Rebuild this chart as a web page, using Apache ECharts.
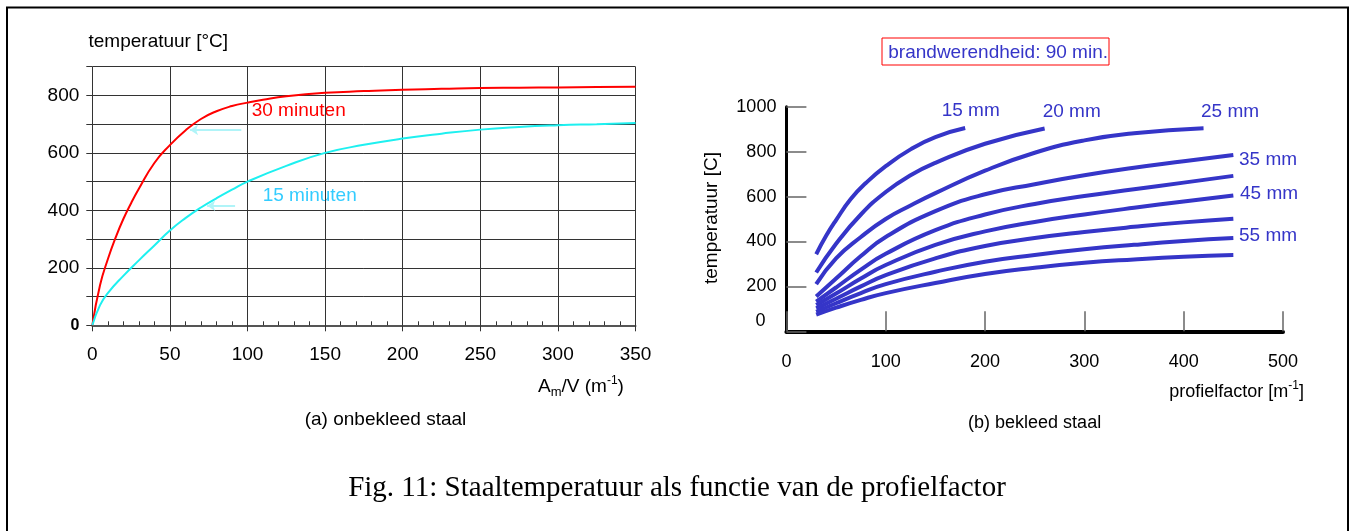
<!DOCTYPE html>
<html><head><meta charset="utf-8">
<script src="https://cdn.jsdelivr.net/npm/echarts@6/dist/echarts.min.js"></script>
<style>html,body{margin:0;padding:0;background:#fff}#c{width:1353px;height:531px}</style>
</head><body><div id="c"></div>
<script>
const SANS = '"Liberation Sans", Arial, Helvetica, sans-serif';
const SERIF = '"Liberation Serif", "Times New Roman", serif';

// ---- (a) onbekleed staal ----
const red30X  = [0, 5, 10, 15, 20, 25, 30, 40, 50, 60, 70, 80, 90, 100, 110, 125, 150, 175, 200, 225, 250, 275, 300, 325, 350];
const red30Y  = [0, 140, 230, 305, 370, 425, 475, 565, 627, 678, 718, 745, 763, 775, 785, 797, 809, 815, 820, 823, 826, 827, 828, 829, 830];
const cyan15X = [0, 5, 10, 20, 30, 40, 50, 60, 70, 80, 90, 100, 125, 150, 175, 200, 225, 250, 275, 300, 325, 350];
const cyan15Y = [0, 70, 112, 172, 226, 278, 330, 373, 410, 442, 472, 500, 555, 600, 628, 650, 667, 681, 690, 696, 700, 704];
const arrow30 = [[96, 680], [63, 680]];
const arrow15 = [[92, 416], [74, 416]];

// ---- (b) bekleed staal ----
const thickness = ['15 mm', '20 mm', '25 mm', '35 mm', '40 mm', '45 mm', '50 mm', '55 mm', '60 mm'];
const b1X = [30, 40, 50, 65, 80, 100, 125, 150, 180];
const b1Y = [343, 425, 495, 590, 660, 735, 810, 865, 905];
const b2X = [30, 50, 75, 100, 125, 150, 200, 260];
const b2Y = [262, 390, 520, 620, 695, 750, 835, 903];
const b3X = [30, 50, 75, 100, 125, 150, 200, 250, 300, 350, 420];
const b3Y = [210, 325, 420, 500, 560, 615, 715, 795, 850, 882, 904];
const bX  = [30, 50, 75, 100, 150, 200, 250, 300, 350, 400, 450];
const b4Y = [155, 235, 335, 420, 535, 610, 655, 695, 728, 757, 785];
const b5Y = [132, 195, 275, 345, 450, 520, 567, 602, 632, 662, 692];
const b6Y = [117, 168, 235, 295, 385, 445, 487, 520, 550, 578, 605];
const b7Y = [102, 145, 200, 250, 325, 380, 415, 442, 465, 485, 501];
const b8Y = [87, 125, 170, 210, 265, 310, 340, 365, 385, 402, 415];
const b9Y = [74, 105, 140, 170, 215, 255, 283, 305, 320, 332, 340];

const zip = (xs, ys) => xs.map((x, i) => [x, ys[i]]);
const bCurves = [
  zip(b1X, b1Y), zip(b2X, b2Y), zip(b3X, b3Y), zip(bX, b4Y), zip(bX, b5Y),
  zip(bX, b6Y), zip(bX, b7Y), zip(bX, b8Y), zip(bX, b9Y)
];
const BLUE = '#3535c8';

const chart = echarts.init(document.getElementById('c'), null, {renderer: 'canvas'});

function arrowMark(a) {
  return {
    silent: true, symbol: ['none', 'arrow'], symbolSize: 8,
    lineStyle: {color: '#b0f4f8', width: 2, type: 'solid'},
    label: {show: false},
    data: [[{coord: a[0]}, {coord: a[1]}]]
  };
}

const txt = (text, x, y, size, color, extra, rotation) => ({
  type: 'text', x, y, silent: true, rotation: rotation || 0,
  style: Object.assign({text, fill: color || '#000', fontSize: size, fontFamily: SANS, align: 'left', verticalAlign: 'middle'}, extra || {})
});

const option = {
  animation: false,
  backgroundColor: '#fff',
  grid: [
    {left: 92.3, right: 717.5, top: 66.7, bottom: 205.7},
    {left: 786.4, right: 70, top: 106.7, bottom: 199.7}
  ],
  xAxis: [
    {type: 'value', gridIndex: 0, position: 'bottom', min: 0, max: 350, interval: 50,
     axisLine: {show: true, onZero: false, lineStyle: {color: '#555', width: 2}},
     axisTick: {show: true, inside: false, length: 6, lineStyle: {color: '#333'}},
     axisLabel: {margin: 20, fontSize: 19, color: '#000', fontFamily: SANS},
     splitLine: {show: true, lineStyle: {color: '#333', width: 1}}},
    {type: 'value', gridIndex: 0, position: 'bottom', offset: 0, min: 0, max: 350, interval: 10,
     axisLine: {show: false, onZero: false},
     axisTick: {show: true, inside: true, length: 4, lineStyle: {color: '#333'}},
     axisLabel: {show: false}, splitLine: {show: false}},
    {type: 'value', gridIndex: 1, min: 0, max: 500, interval: 100,
     axisLine: {show: true, lineStyle: {color: '#000', width: 4}},
     axisTick: {show: true, inside: true, length: 20, lineStyle: {color: '#666', width: 1.5}},
     axisLabel: {margin: 22, fontSize: 18, color: '#000', fontFamily: SANS},
     splitLine: {show: false}}
  ],
  yAxis: [
    {type: 'value', gridIndex: 0, min: 0, max: 900, interval: 100,
     axisLine: {show: false},
     axisTick: {show: true, inside: false, length: 6, lineStyle: {color: '#333'}},
     axisLabel: {margin: 13, fontSize: 19, color: '#000', fontFamily: SANS,
       formatter: v => v === 0 ? '{b|0}' : (v % 200 === 0 ? String(v) : ''),
       rich: {b: {fontWeight: 'bold', fontSize: 16, fontFamily: SANS, color: '#000'}}},
     splitLine: {show: true, lineStyle: {color: '#333', width: 1}}},
    {type: 'value', gridIndex: 1, min: 0, max: 1000, interval: 200,
     axisLine: {show: true, lineStyle: {color: '#000', width: 3}},
     axisTick: {show: true, inside: true, length: 20, lineStyle: {color: '#666', width: 1.5}},
     axisLabel: {margin: 10, fontSize: 18, color: '#000', fontFamily: SANS,
       formatter: v => v === 0 ? '{z|0}' : String(v),
       rich: {z: {fontSize: 18, fontFamily: SANS, color: '#000', padding: [0, 11, 20, 0]}}},
     splitLine: {show: false}}
  ],
  series: [
    {type: 'line', name: '30 minuten', xAxisIndex: 0, yAxisIndex: 0, smooth: true, showSymbol: false,
     lineStyle: {color: '#ff0000', width: 2}, data: zip(red30X, red30Y), markLine: arrowMark(arrow30)},
    {type: 'line', name: '15 minuten', xAxisIndex: 0, yAxisIndex: 0, smooth: true, showSymbol: false,
     lineStyle: {color: '#1ef0f0', width: 2}, data: zip(cyan15X, cyan15Y), markLine: arrowMark(arrow15)}
  ].concat(bCurves.map((d, i) => ({
    type: 'line', name: thickness[i], xAxisIndex: 2, yAxisIndex: 1, smooth: true, showSymbol: false,
    lineStyle: {color: BLUE, width: 4, cap: 'butt'}, data: d
  }))),
  graphic: [
    {type: 'rect', silent: true, shape: {x: 7, y: 7.5, width: 1341, height: 540},
     style: {fill: 'none', stroke: '#000', lineWidth: 2}},
    txt('temperatuur [°C]', 88.5, 41.7, 19),
    txt('30 minuten', 251.7, 111, 19, '#ff0000'),
    txt('15 minuten', 262.7, 196, 19, '#33ccff'),
    {type: 'text', x: 538, y: 386.7, silent: true,
     style: {text: '{a|A}{s|m}{a|/V (m}{p|-1}{a|)}', align: 'left', verticalAlign: 'middle',
       rich: {a: {fontSize: 19, fontFamily: SANS, fill: '#000'},
              s: {fontSize: 13, fontFamily: SANS, fill: '#000', padding: [12, 0, 0, 0]},
              p: {fontSize: 12, fontFamily: SANS, fill: '#000', padding: [0, 0, 12, 0]}}}},
    txt('(a) onbekleed staal', 385.5, 419.3, 19, '#000', {align: 'center'}),
    {type: 'rect', silent: true, shape: {x: 882, y: 38, width: 227, height: 27},
     style: {fill: '#fff', stroke: '#ff0000', lineWidth: 1}},
    txt('brandwerendheid: 90 min.', 888.3, 52.7, 19, BLUE),
    txt('temperatuur [C]', 712, 218, 19, '#000', {align: 'center'}, Math.PI / 2),
    txt('15 mm', 941.7, 111, 19, BLUE),
    txt('20 mm', 1042.7, 111.7, 19, BLUE),
    txt('25 mm', 1201, 111.7, 19, BLUE),
    txt('35 mm', 1239, 159.3, 19, BLUE),
    txt('45 mm', 1240, 193.3, 19, BLUE),
    txt('55 mm', 1239, 235.7, 19, BLUE),
    {type: 'text', x: 1304, y: 391.7, silent: true,
     style: {text: '{a|profielfactor [m}{p|-1}{a|]}', align: 'right', verticalAlign: 'middle',
       rich: {a: {fontSize: 18, fontFamily: SANS, fill: '#000'},
              p: {fontSize: 12, fontFamily: SANS, fill: '#000', padding: [0, 0, 12, 0]}}}},
    txt('(b) bekleed staal', 1034.6, 423.3, 18, '#000', {align: 'center'}),
    {type: 'text', x: 677, y: 488, silent: true,
     style: {text: 'Fig. 11: Staaltemperatuur als functie van de profielfactor', fill: '#000',
       fontSize: 29, fontFamily: SERIF, align: 'center', verticalAlign: 'middle'}}
  ]
};
chart.setOption(option);
</script>
</body></html>
